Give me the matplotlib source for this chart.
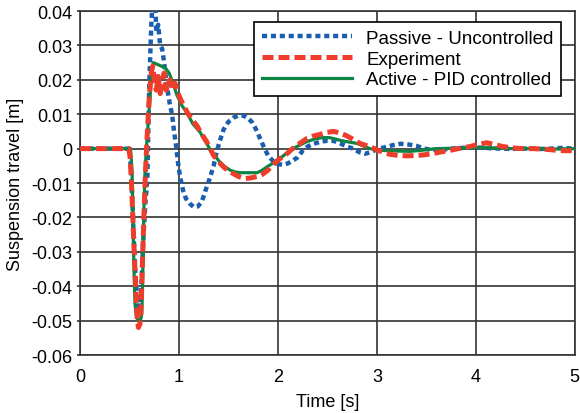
import matplotlib
matplotlib.use("Agg")
import matplotlib.pyplot as plt

plt.rcParams['font.family'] = ['Liberation Sans', 'DejaVu Sans']
plt.rcParams['axes.unicode_minus'] = False

# passive (uncontrolled) suspension response
t_passive = [0.0, 0.50, 0.52, 0.54, 0.56, 0.58, 0.60, 0.62, 0.64, 0.66, 0.68,
             0.70, 0.72, 0.74, 0.76, 0.77, 0.79, 0.81, 0.83, 0.85, 0.87, 0.89,
             0.91, 0.93, 0.95, 0.97, 0.99, 1.01, 1.04, 1.07, 1.11, 1.15, 1.19,
             1.23, 1.27, 1.31, 1.35, 1.38, 1.41, 1.45, 1.50, 1.55, 1.60, 1.65,
             1.70, 1.74, 1.78, 1.82, 1.86, 1.90, 1.95, 2.00, 2.05, 2.10, 2.15,
             2.20, 2.25, 2.30, 2.36, 2.43, 2.50, 2.57, 2.63, 2.70, 2.76, 2.82,
             2.88, 2.94, 3.00, 3.08, 3.16, 3.24, 3.32, 3.40, 3.48, 3.56, 3.66,
             3.76, 3.86, 3.96, 4.06, 4.16, 4.26, 4.36, 4.46, 4.56, 4.66, 4.76,
             4.86, 5.0]
passive = [0.0, 0.0, -0.008, -0.024, -0.037, -0.045, -0.046, -0.040, -0.026,
           -0.016, -0.009, 0.019, 0.036, 0.046, 0.043, 0.034, 0.036, 0.030,
           0.029, 0.025, 0.020, 0.016, 0.0125, 0.010, 0.005, 0.001, -0.004,
           -0.008, -0.012, -0.0145, -0.016, -0.017, -0.0168, -0.0155, -0.012,
           -0.0087, -0.005, -0.001, 0.002, 0.0055, 0.0078, 0.0090, 0.0096,
           0.0096, 0.0088, 0.0076, 0.0055, 0.0029, 0.0003, -0.002, -0.0036,
           -0.0045, -0.0047, -0.0043, -0.0035, -0.0025, -0.0006, 0.0006,
           0.0014, 0.002, 0.0023, 0.0022, 0.0015, 0.0006, 0.0, -0.0010,
           -0.0015, -0.0010, -0.0002, 0.0004, 0.0010, 0.0014, 0.0012, 0.0008,
           0.0, -0.0004, -0.0003, 0.0, 0.0002, 0.0003, 0.0003, 0.0001, 0.0,
           -0.0001, 0.0, 0.0, -0.0001, 0.0, 0.0002, 0.0]

# measured response
t_exp = [0.0, 0.49, 0.505, 0.52, 0.535, 0.55, 0.565, 0.578, 0.59, 0.605, 0.62,
         0.632, 0.645, 0.66, 0.675, 0.69, 0.705, 0.72, 0.735, 0.75, 0.77, 0.79,
         0.81, 0.83, 0.85, 0.87, 0.89, 0.91, 0.93, 0.96, 0.99, 1.03, 1.08,
         1.13, 1.18, 1.23, 1.28, 1.35, 1.40, 1.45, 1.50, 1.55, 1.61, 1.67,
         1.73, 1.79, 1.84, 1.89, 1.94, 1.99, 2.04, 2.09, 2.14, 2.19, 2.24,
         2.29, 2.35, 2.42, 2.49, 2.56, 2.62, 2.69, 2.76, 2.83, 2.90, 2.96,
         3.02, 3.08, 3.14, 3.22, 3.30, 3.40, 3.48, 3.57, 3.66, 3.74, 3.84,
         3.94, 4.02, 4.11, 4.19, 4.27, 4.37, 4.48, 4.58, 4.65, 4.75, 4.85,
         4.98, 5.0]
experiment = [0.0, 0.0, -0.002, -0.010, -0.021, -0.032, -0.042, -0.049, -0.052,
              -0.051, -0.044, -0.032, -0.020, -0.008, 0.002, 0.010, 0.017,
              0.022, 0.024, 0.020, 0.017, 0.021, 0.016, 0.019, 0.022, 0.017,
              0.019, 0.020, 0.017, 0.019, 0.016, 0.0135, 0.0107, 0.0085,
              0.0067, 0.0042, 0.002, -0.002, -0.0038, -0.0053, -0.0065,
              -0.0073, -0.0082, -0.0087, -0.0085, -0.0081, -0.0075, -0.0065,
              -0.005, -0.0036, -0.0025, -0.0015, -0.0002, 0.0009, 0.0019,
              0.0029, 0.0036, 0.0041, 0.0047, 0.005, 0.0046, 0.0038, 0.0027,
              0.0015, 0.0008, 0.0002, -0.0006, -0.0012, -0.0017, -0.002,
              -0.0021, -0.002, -0.0018, -0.0014, -0.0009, -0.0005, 0.0001,
              0.0006, 0.0012, 0.0017, 0.0012, 0.0006, 0.0002, 0.0, 0.0,
              -0.0001, -0.0003, -0.0006, -0.0006, -0.0006]

# active suspension with PID controller
t_pid = [0.0, 0.51, 0.525, 0.535, 0.545, 0.555, 0.57, 0.59, 0.61, 0.625, 0.635,
         0.645, 0.655, 0.67, 0.69, 0.71, 0.725, 0.74, 0.78, 0.82, 0.86, 0.90,
         0.94, 0.98, 1.03, 1.08, 1.14, 1.21, 1.26, 1.31, 1.36, 1.41, 1.46,
         1.52, 1.57, 1.62, 1.70, 1.79, 1.84, 1.89, 1.95, 2.02, 2.08, 2.15,
         2.22, 2.29, 2.37, 2.45, 2.52, 2.58, 2.63, 2.70, 2.80, 2.86, 2.93,
         3.00, 3.10, 3.20, 3.33, 3.45, 3.60, 3.75, 3.90, 4.05, 4.20, 4.35,
         4.50, 4.65, 4.80, 5.0]
pid = [0.0, 0.0, -0.006, -0.02, -0.035, -0.045, -0.049, -0.050, -0.050, -0.048,
       -0.035, -0.018, -0.008, 0.0, 0.008, 0.016, 0.023, 0.025, 0.0245, 0.024,
       0.0235, 0.022, 0.019, 0.0155, 0.0125, 0.0105, 0.0072, 0.0049, 0.0025,
       0.0, -0.002, -0.0038, -0.0052, -0.0063, -0.0068, -0.007, -0.007, -0.007,
       -0.0063, -0.0053, -0.0042, -0.0029, -0.0015, 0.0, 0.001, 0.002, 0.0028,
       0.0032, 0.0032, 0.0028, 0.0024, 0.002, 0.0015, 0.0008, 0.0, -0.0004,
       -0.0006, -0.0007, -0.0008, -0.0005, 0.0, 0.0001, 0.0002, 0.0003, 0.0002,
       0.0, 0.0, 0.0, -0.0001, 0.0]

x_ticks = [0, 1, 2, 3, 4, 5]
y_ticks = [0.04, 0.03, 0.02, 0.01, 0.0, -0.01, -0.02, -0.03, -0.04, -0.05, -0.06]
y_tick_labels = ['0.04', '0.03', '0.02', '0.01', '0', '-0.01', '-0.02',
                 '-0.03', '-0.04', '-0.05', '-0.06']

BLUE = '#1c5eae'
RED = '#ee3d2b'
GREEN = '#0b8444'
GRID = '#333333'

fig = plt.figure(figsize=(5.8, 4.14), dpi=100)
ax = fig.add_axes([0.138, 0.140, 0.853, 0.831])

ax.plot(t_passive, passive, color=BLUE, lw=3.2, dashes=(1.15, 0.85),
        dash_capstyle='butt', label='Passive - Uncontrolled', zorder=3)
ax.plot(t_exp, experiment, color=RED, lw=3.6, dashes=(2.2, 1.0),
        dash_capstyle='butt', label='Experiment', zorder=5)
ax.plot(t_pid, pid, color=GREEN, lw=2.3, label='Active - PID controlled',
        zorder=4)

ax.set_xlim(0, 5)
ax.set_ylim(-0.06, 0.04)
ax.set_xticks(x_ticks)
ax.set_yticks(y_ticks)
ax.set_yticklabels(y_tick_labels)
ax.tick_params(axis='x', length=0, labelsize=13, pad=9, colors='black')
ax.tick_params(axis='y', length=2.5, width=1.2, color=GRID, labelsize=13,
               pad=3, labelcolor='black')
ax.grid(True, color=GRID, lw=1.2)
ax.set_axisbelow(True)
for sp in ax.spines.values():
    sp.set_color(GRID)
    sp.set_linewidth(1.2)

ax.set_xlabel('Time [s]', fontsize=13, labelpad=6)
ax.set_ylabel('Suspension travel [m]', fontsize=13, labelpad=5)

leg = ax.legend(loc='upper right', bbox_to_anchor=(0.972, 0.968),
                borderaxespad=0, fontsize=13.5, handlelength=4.8,
                handletextpad=0.75, labelspacing=0.2, borderpad=0.4,
                fancybox=False, framealpha=1, edgecolor='black')
leg.get_frame().set_linewidth(1.2)
leg.set_zorder(10)

plt.savefig('out.png', dpi=100)
